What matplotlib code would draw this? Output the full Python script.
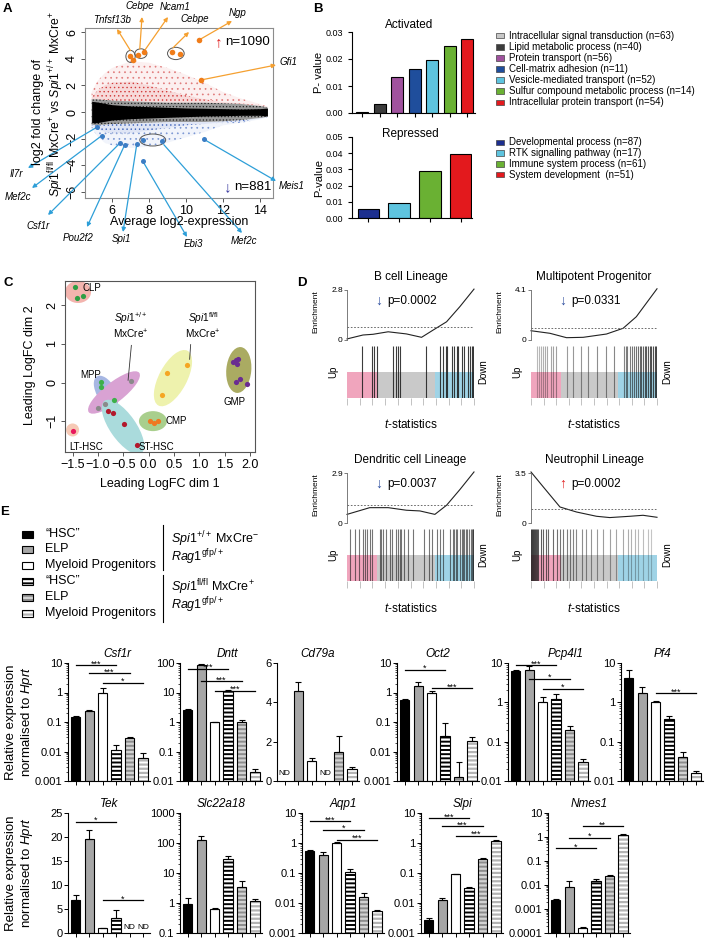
import numpy as np
import matplotlib
matplotlib.use("Agg")
import matplotlib.pyplot as plt
from matplotlib.patches import Ellipse, Rectangle
from matplotlib.transforms import Affine2D
from matplotlib.ticker import LogLocator, NullFormatter, FuncFormatter

plt.rcParams.update({
    'font.family': ['Liberation Sans', 'DejaVu Sans'],
    'mathtext.fontset': 'custom',
    'mathtext.rm': 'Liberation Sans',
    'mathtext.it': 'Liberation Sans:italic',
    'mathtext.bf': 'Liberation Sans:bold',
    'hatch.linewidth': 1.6,
    'axes.linewidth': 0.8,
})

# ======================= DATA =======================
# --- Panel A: MA plot envelopes ---
ma_x       = [4.9, 5.2, 5.6, 6.0, 7.0, 8.0, 9.0, 10.0, 11.0, 12.0, 13.0, 14.0, 14.4]
ma_core_hi = [0.8, 0.75, 0.65, 0.55, 0.45, 0.4, 0.35, 0.3, 0.28, 0.25, 0.22, 0.25, 0.3]
ma_core_lo = [-0.8, -0.8, -0.7, -0.6, -0.5, -0.45, -0.4, -0.35, -0.3, -0.28, -0.25, -0.25, -0.3]
ma_fr_hi   = [0.95, 0.95, 0.9, 0.85, 0.8, 0.75, 0.7, 0.7, 0.7, 0.65, 0.6, 0.45, 0.35]
ma_fr_lo   = [-0.95, -1.0, -0.95, -0.9, -0.85, -0.8, -0.75, -0.75, -0.75, -0.7, -0.6, -0.45, -0.35]
ma_up_mid  = [1.1, 1.6, 2.0, 2.2, 2.3, 2.0, 1.6, 1.25, 0.95, 0.75, 0.65, 0.5, 0.4]
ma_up_hi   = [1.5, 2.3, 2.9, 3.3, 3.8, 3.7, 3.3, 2.8, 2.2, 1.5, 1.0, 0.6, 0.4]
ma_dn_mid  = [-1.0, -1.3, -1.5, -1.6, -1.6, -1.4, -1.2, -1.0, -0.9, -0.8, -0.7, -0.5, -0.4]
ma_dn_lo   = [-1.2, -1.8, -2.3, -2.5, -2.7, -2.6, -2.3, -1.9, -1.5, -1.0, -0.8, -0.55, -0.4]
up_x = [6.97, 7.12, 7.42, 7.73, 9.23, 9.69, 10.7, 10.8]
up_y = [4.22, 3.93, 4.30, 4.48, 4.48, 4.35, 5.4, 2.4]
dn_x = [5.17, 5.44, 6.43, 6.69, 7.34, 7.66, 8.72, 7.66, 10.97]
dn_y = [-1.15, -1.78, -2.33, -2.45, -2.40, -2.08, -2.20, -3.68, -2.05]
up_labels = ['Tnfsf13b', 'Cebpe', 'Ncam1', 'Cebpe', 'Ngp', 'Gfi1']
dn_labels = ['Il7r', 'Mef2c', 'Csf1r', 'Pou2f2', 'Spi1', 'Ebi3', 'Mef2c', 'Meis1']
n_up, n_dn = 1090, 881

# --- Panel B ---
act_labels = ['Intracellular signal transduction (n=63)', 'Lipid metabolic process (n=40)',
              'Protein transport (n=56)', 'Cell-matrix adhesion (n=11)',
              'Vesicle-mediated transport (n=52)', 'Sulfur compound metabolic process (n=14)',
              'Intracellular protein transport (n=54)']
act_vals = [0.0002, 0.0035, 0.0135, 0.0163, 0.0197, 0.0250, 0.0273]
act_colors = ['#c8c8c8', '#3c3c3c', '#a0529e', '#1f4e9c', '#5ec4df', '#6ab133', '#e3191d']
rep_labels = ['Developmental process (n=87)', 'RTK signalling pathway (n=17)',
              'Immune system process (n=61)', 'System development  (n=51)']
rep_vals = [0.0058, 0.0092, 0.0293, 0.0393]
rep_colors = ['#1c2f8f', '#5ec4df', '#6ab133', '#e3191d']

# --- Panel C: MDS ---
clp_x = [-1.455, -1.41, -1.30];         clp_y = [2.47, 2.19, 2.23]
mpp_x = [-0.93, -0.93, -0.685];         mpp_y = [0.02, -0.11, -0.46]
wt_x = [-0.35, -0.86, -1.0];            wt_y = [0.04, -0.56, -0.65]
sthsc_x = [-0.80, -0.70, -0.48, -0.23]; sthsc_y = [-0.72, -0.78, -1.08, -1.62]
lthsc_x = [-1.5];                       lthsc_y = [-1.25]
ko_x = [0.37, 0.75, 0.255];             ko_y = [0.25, 0.45, -0.33]
cmp_x = [0.025, 0.10, 0.19];            cmp_y = [-0.99, -1.05, -0.99]
gmp_x = [1.67, 1.72, 1.77, 1.75, 1.73, 1.80, 1.94]
gmp_y = [0.52, 0.58, 0.60, 0.47, 0.02, 0.08, -0.03]

# --- Panel D: barcode plots ---
bcell_cx = [0.0, 0.126, 0.205, 0.324, 0.468, 0.587, 0.679, 0.784, 0.889, 1.0]
bcell_cy = [0.06, 0.28, 0.32, 0.46, 0.34, 0.15, 0.56, 1.02, 1.87, 2.85]
bcell_bars = [0.118, 0.2, 0.213, 0.239, 0.363, 0.389, 0.405, 0.42, 0.621, 0.732, 0.758, 0.779,
              0.789, 0.824, 0.842, 0.863, 0.871, 0.903, 0.921, 0.955, 0.968, 0.982, 0.989, 0.997]
mpp_cx = [0.0, 0.15, 0.282, 0.414, 0.599, 0.731, 0.836, 1.0]
mpp_cy = [0.76, 0.55, 0.19, 0.22, 0.49, 0.96, 1.91, 4.2]
mpp_bars = [0.05, 0.066, 0.077, 0.098, 0.111, 0.129, 0.156, 0.177, 0.195, 0.288, 0.335, 0.393,
            0.456, 0.52, 0.599, 0.657, 0.739, 0.752, 0.765, 0.784, 0.8, 0.815, 0.831, 0.85,
            0.863, 0.876, 0.889, 0.902, 0.916, 0.929, 0.942, 0.955, 0.968, 0.982, 0.99]
dc_cx = [0.0, 0.179, 0.324, 0.468, 0.574, 0.692, 0.784, 0.889, 1.0]
dc_cy = [0.5, 0.89, 0.89, 0.74, 0.7, 0.5, 1.03, 1.94, 2.96]
dc_bars = [0.026, 0.061, 0.095, 0.126, 0.139, 0.158, 0.179, 0.2, 0.258, 0.271, 0.284, 0.311,
           0.337, 0.358, 0.389, 0.403, 0.416, 0.429, 0.447, 0.482, 0.516, 0.605, 0.647, 0.666,
           0.711, 0.732, 0.758, 0.811, 0.832, 0.842, 0.858, 0.868, 0.889, 0.903, 0.911, 0.921,
           0.937, 0.947, 0.963, 0.974, 0.982, 0.989, 0.995]
neu_cx = [0.0, 0.098, 0.23, 0.361, 0.52, 0.625, 0.784, 0.889, 1.0]
neu_cy = [3.57, 2.52, 1.12, 0.77, 0.47, 0.38, 0.47, 0.54, 0.40]
neu_bars = [0.002, 0.008, 0.016, 0.024, 0.032, 0.04, 0.05, 0.058, 0.077, 0.098, 0.119, 0.137,
            0.172, 0.203, 0.23, 0.256, 0.282, 0.309, 0.335, 0.361, 0.401, 0.44, 0.48, 0.52,
            0.573, 0.625, 0.678, 0.731, 0.77, 0.797, 0.823, 0.85, 0.889, 0.929, 0.955]

# --- Panel E: qPCR bars (6 groups) ---
groups = ['"HSC"', 'ELP', 'Myeloid Progenitors', '"HSC"', 'ELP', 'Myeloid Progenitors']
nan = np.nan
csf1r_v = [0.15, 0.24, 1.0, 0.011, 0.028, 0.0062];  csf1r_e = [0.01, 0.02, 0.4, 0.005, 0.002, 0.003]
dntt_v = [2.5, 85, 1.0, 11, 1.0, 0.02];             dntt_e = [0.2, 10, 0.03, 1.0, 0.15, 0.005]
cd79a_v = [nan, 4.6, 1.0, nan, 1.45, 0.6];          cd79a_e = [0, 0.45, 0.15, 0, 0.85, 0.1]
oct2_v = [0.55, 1.7, 1.0, 0.033, 0.0014, 0.022];    oct2_e = [0.05, 0.6, 0.1, 0.06, 0.003, 0.008]
pcp4l1_v = [6.2, 6.8, 1.0, 1.25, 0.2, 0.03];        pcp4l1_e = [0.6, 1.7, 0.35, 0.35, 0.05, 0.007]
pf4_v = [4.2, 1.7, 1.0, 0.38, 0.04, 0.016];         pf4_e = [2.3, 0.8, 0.08, 0.07, 0.015, 0.002]
tek_v = [6.8, 19.5, 1.0, 3.2, nan, nan];            tek_e = [1.2, 2.0, 0.1, 1.5, 0, 0]
slc_v = [0.9, 130, 0.65, 30, 3.5, 1.15];            slc_e = [0.6, 40, 0.05, 7, 2.0, 0.25]
aqp1_v = [0.55, 0.4, 1.0, 0.11, 0.016, 0.0055];     aqp1_e = [0.05, 0.1, 0.1, 0.03, 0.006, 0.0002]
slpi_v = [0.0027, 0.013, 0.09, 0.032, 0.29, 1.2];   slpi_e = [0.0005, 0.002, 0.005, 0.002, 0.03, 0.05]
nmes1_v = [0.0023, 0.008, 0.00016, 0.014, 0.024, 1.2]; nmes1_e = [0.0003, 0.006, 0.00002, 0.003, 0.002, 0.15]
csf1r_sig = [(0, 3, 8.5, '***'), (1, 4, 4.6, '***'), (2, 5, 2.15, '*')]
dntt_sig = [(0, 3, 64, '***'), (1, 4, 23.7, '***'), (2, 5, 11.5, '***')]
oct2_sig = [(0, 3, 6.0, '*'), (2, 5, 1.44, '***')]
pcp4l1_sig = [(0, 3, 8.76, '***'), (1, 4, 4.0, '*'), (2, 5, 2.24, '*')]
pf4_sig = [(2, 5, 1.68, '***')]
tek_sig = [(0, 3, 23.2, '*'), (2, 5, 6.9, '*')]
aqp1_sig = [(0, 3, 5.5, '***'), (1, 4, 2.8, '*'), (2, 5, 1.29, '***')]
slpi_sig = [(0, 3, 6.8, '***'), (1, 4, 3.6, '***'), (2, 5, 1.76, '***')]
nmes1_sig = [(0, 3, 0.35, '*'), (1, 4, 0.95, '*'), (2, 5, 2.75, '**')]

# ======================= FIGURE =======================
W, H = 708, 939
fig = plt.figure(figsize=(W / 100, H / 100), dpi=100)

def axpx(l, t, r, b, **kw):
    return fig.add_axes([l / W, 1 - b / H, (r - l) / W, (b - t) / H], **kw)

ov = fig.add_axes([0, 0, 1, 1], zorder=10)
ov.set_xlim(0, W); ov.set_ylim(H, 0); ov.axis('off'); ov.patch.set_alpha(0)

for lab, (x, y) in zip('ABCDE', [(7, 9), (318, 9), (8, 283), (302, 283), (5, 512)]):
    ov.text(x, y, lab, fontsize=9.5, fontweight='bold', ha='center', va='center')

# ---------------- Panel A ----------------
axA = axpx(85, 28, 273, 198)
axA.set_xlim(4.54, 14.7); axA.set_ylim(-6.45, 6.3)
with plt.rc_context({'hatch.linewidth': 0.5}):
    axA.fill_between(ma_x, ma_dn_lo, ma_dn_mid, facecolor='#f1f4fb', edgecolor='#7b97d3', hatch='...', lw=0)
    axA.fill_between(ma_x, ma_dn_mid, ma_fr_lo, facecolor='#dfe5f5', edgecolor='#3f63b8', hatch='....', lw=0)
    axA.fill_between(ma_x, ma_up_mid, ma_up_hi, facecolor='#fcf0f0', edgecolor='#e07a7a', hatch='...', lw=0)
    axA.fill_between(ma_x, ma_fr_hi, ma_up_mid, facecolor='#f7dada', edgecolor='#d23a3a', hatch='....', lw=0)
    axA.fill_between(ma_x, ma_fr_lo, ma_fr_hi, facecolor='#9a9a9a', edgecolor='#222222', hatch='.....', lw=0)
axA.fill_between(ma_x, ma_core_lo, ma_core_hi, color='black', lw=0)
for (cx, cy, w, h) in [(7.0, 4.17, 0.5, 0.9), (7.56, 4.38, 0.65, 0.72), (9.45, 4.39, 0.9, 0.92),
                       (8.2, -2.1, 1.4, 0.9)]:
    axA.add_patch(Ellipse((cx, cy), w, h, fill=False, ec='#555555', lw=0.7, zorder=3))
axA.scatter(up_x, up_y, s=16, color='#f07d1a', zorder=4, lw=0)
axA.scatter(dn_x, dn_y, s=13, color='#3c7dc4', zorder=4, lw=0)
for s in axA.spines.values():
    s.set_color('#8c8c8c')
axA.set_xticks([6, 8, 10, 12, 14])
axA.set_yticks([-6, -4, -2, 0, 2, 4, 6])
axA.set_yticklabels(['\u22126', '\u22124', '\u22122', '0', '2', '4', '6'], rotation=90, va='center')
axA.tick_params(labelsize=9, length=3, width=0.7, color='#555555', pad=2)
ov.text(179, 222, 'Average log2-expression', fontsize=9, ha='center', va='center')
ov.text(38, 112, 'log2 fold change of', fontsize=9, rotation=90, ha='center', va='center')
ov.text(56, 104, r'$\it{Spi1}^{\rm fl/fl}$ MxCre$^{+}$ vs $\it{Spi1}^{+/+}$ MxCre$^{+}$',
        fontsize=8.8, rotation=90, ha='center', va='center')

up_from = [(7.0, 4.6), (7.5, 4.72), (7.73, 4.55), (9.3, 4.82), (10.7, 5.4), (10.8, 2.4)]
up_tip = [(117, 29), (142, 17), (168, 17), (189, 32), (232, 21), (276, 65)]
up_txt = [(112, 20), (140, 6), (175, 7), (195, 19), (238, 13), (288, 62)]
dn_from = [(5.17, -1.15), (5.44, -1.78), (6.43, -2.33), (6.69, -2.45), (7.34, -2.4),
           (7.66, -3.68), (8.8, -2.45), (10.97, -2.05)]
dn_tip = [(28, 168), (32, 188), (48, 215), (87, 227), (123, 232), (187, 237), (242, 233), (276, 181)]
dn_txt = [(16, 174), (18, 197), (38, 226), (78, 238), (121, 239), (193, 244), (244, 241), (292, 186)]
for labs, frs, tips, txts, col in [(up_labels, up_from, up_tip, up_txt, '#f5a030'),
                                  (dn_labels, dn_from, dn_tip, dn_txt, '#2e9fd8')]:
    for lab, fr, tip, tx in zip(labs, frs, tips, txts):
        axA.annotate('', xy=tip, xycoords=ov.transData, xytext=fr, textcoords='data',
                     arrowprops=dict(arrowstyle='-|>', color=col, lw=0.9, shrinkA=0, shrinkB=0,
                                     mutation_scale=6), annotation_clip=False)
        ov.text(tx[0], tx[1], lab, fontsize=7, style='italic', ha='center', va='center')
ov.text(219, 42, '\u2191', fontsize=11, color='#e02020', ha='center', va='center')
ov.text(248, 42, 'n=%d' % n_up, fontsize=9.5, ha='center', va='center')
ov.text(228, 187, '\u2193', fontsize=11, color='#3a3aa0', ha='center', va='center')
ov.text(253, 187, 'n=%d' % n_dn, fontsize=9.5, ha='center', va='center')

# ---------------- Panel B ----------------
def bstyle(ax, ticks):
    ax.spines['top'].set_visible(False); ax.spines['right'].set_visible(False)
    ax.set_yticks(ticks)
    ax.set_yticklabels(['%.2f' % t for t in ticks])
    ax.set_xticklabels([])
    ax.tick_params(labelsize=6.5, length=3, width=0.8)

axB1 = axpx(352, 32, 475, 113)
axB1.bar(range(len(act_vals)), act_vals, width=0.69, color=act_colors, edgecolor='black', lw=0.8)
axB1.set_xlim(-0.59, 6.44); axB1.set_ylim(0, 0.03)
axB1.set_xticks(range(len(act_vals)))
bstyle(axB1, [0, 0.01, 0.02, 0.03])
axB2 = axpx(352, 137, 472, 218)
axB2.bar(range(len(rep_vals)), rep_vals, width=0.7, color=rep_colors, edgecolor='black', lw=0.8)
axB2.set_xlim(-0.53, 3.37); axB2.set_ylim(0, 0.05)
axB2.set_xticks(range(len(rep_vals)))
bstyle(axB2, [0, 0.01, 0.02, 0.03, 0.04, 0.05])
ov.text(409, 25, 'Activated', fontsize=8.5, ha='center', va='center')
ov.text(410, 134, 'Repressed', fontsize=8.5, ha='center', va='center')
ov.text(319, 72, 'P- value', fontsize=8, rotation=90, ha='center', va='center')
ov.text(319, 178, 'P-value', fontsize=8, rotation=90, ha='center', va='center')
for i, (lab, c) in enumerate(zip(act_labels, act_colors)):
    y = 35.7 + i * 11.1
    ov.add_patch(Rectangle((495.5, y - 2.8), 8, 5.6, facecolor=c, edgecolor='#444', lw=0.5))
    ov.text(509, y, lab, fontsize=7, ha='left', va='center')
for i, (lab, c) in enumerate(zip(rep_labels, rep_colors)):
    y = 142.3 + i * 10.8
    ov.add_patch(Rectangle((495.5, y - 2.8), 8, 5.6, facecolor=c, edgecolor='#444', lw=0.5))
    ov.text(509, y, lab, fontsize=7, ha='left', va='center')

# ---------------- Panel C ----------------
cx0, cx1, cy0, cy1 = -1.65, 2.1, -1.79, 2.62
axC = axpx(65, 281, 255, 452)
axC.set_xlim(cx0, cx1); axC.set_ylim(cy0, cy1)
sx = 190 / (cx1 - cx0); sy = 171 / (cy1 - cy0)
tr = Affine2D().scale(1 / sx, 1 / sy) + axC.transData
ell = [(-1.393, 2.336, 26, 22, 0, '#f3b4ae'), (-0.841, -0.242, 36, 19, -60, '#a7b7e3'),
       (-0.683, -0.255, 64, 20, 38, '#d9a2d3'), (-0.505, -1.145, 64, 26, -55, '#aadbdc'),
       (0.481, 0.115, 62, 28, 62, '#eef2ad'), (0.086, -0.994, 28, 20, 0, '#a9cf8d'),
       (1.78, 0.325, 25, 46, -5, '#aaab62'), (-1.50, -1.222, 13, 13, 0, '#f6c9b5')]
for (ex, ey, ew, eh, ea, ec) in ell:
    axC.add_patch(Ellipse((ex * sx, ey * sy), ew, eh, angle=ea, transform=tr, color=ec, lw=0))
for xs, ys, c in [(clp_x, clp_y, '#2e9e44'), (mpp_x, mpp_y, '#3db04a'), (wt_x, wt_y, '#8a8a8a'),
                  (sthsc_x, sthsc_y, '#b2182b'), (lthsc_x, lthsc_y, '#e8175d'),
                  (ko_x, ko_y, '#f5a623'), (cmp_x, cmp_y, '#f07820'), (gmp_x, gmp_y, '#6a2c91')]:
    axC.scatter(xs, ys, s=14, color=c, lw=0, zorder=3)
for s in axC.spines.values():
    s.set_color('#555555')
axC.set_xticks([-1.5, -1.0, -0.5, 0.0, 0.5, 1.0, 1.5, 2.0])
axC.set_xticklabels(['\u22121.5', '\u22121.0', '\u22120.5', '0.0', '0.5', '1.0', '1.5', '2.0'])
axC.set_yticks([-1, 0, 1, 2])
axC.set_yticklabels(['\u22121', '0', '1', '2'], rotation=90, va='center')
axC.tick_params(labelsize=9, length=3, width=0.7, color='#555555', pad=2)
ov.text(160, 484, 'Leading LogFC dim 1', fontsize=9, ha='center', va='center')
ov.text(30, 365, 'Leading LogFC dim 2', fontsize=9, rotation=90, ha='center', va='center')
for (tx, ty, t, ha) in [(-1.31, 2.43, 'CLP', 'left'), (-1.14, 0.2, 'MPP', 'center'),
                        (-1.23, -1.65, 'LT-HSC', 'center'), (-0.2, -1.65, 'ST-HSC', 'left'),
                        (0.33, -1.0, 'CMP', 'left'), (1.69, -0.49, 'GMP', 'center')]:
    axC.text(tx, ty, t, fontsize=7, ha=ha, va='center')
axC.text(-0.35, 1.47, r'$\it{Spi1}^{+/+}$' + '\nMxCre$^{+}$', fontsize=7.3, ha='center', va='center',
         linespacing=1.1)
axC.text(1.08, 1.47, r'$\it{Spi1}^{\rm fl/fl}$' + '\nMxCre$^{+}$', fontsize=7.3, ha='center', va='center',
         linespacing=1.1)
axC.plot([-0.405, -0.34], [0.06, 0.96], color='#333', lw=0.6)
axC.plot([0.81, 0.83], [0.6, 0.98], color='#333', lw=0.6)

# ---------------- Panel D ----------------
def gsea(l, r, t, title, arrow, acol, ptxt, ymax, cxs, cys, dash, bars, alphas, enr_x, up_x, down_x):
    axc = axpx(l, t, r, t + 50)
    axc.plot(cxs, cys, color='#222222', lw=0.8, clip_on=False)
    axc.axhline(dash, ls=(0, (2, 2)), color='#555555', lw=0.6)
    axc.set_xlim(0, 1); axc.set_ylim(0, ymax)
    for k in ['top', 'right', 'bottom']:
        axc.spines[k].set_visible(False)
    axc.spines['left'].set_color('#666666'); axc.spines['left'].set_linewidth(0.6)
    axc.set_xticks([])
    axc.set_yticks([0, ymax]); axc.set_yticklabels(['0', '%g' % ymax])
    axc.tick_params(labelsize=6, length=2, width=0.6, pad=1, color='#666666')
    axb = axpx(l, t + 56, r, t + 108)
    axb.set_xlim(0, 1); axb.set_ylim(0, 1)
    axb.axvspan(0, 0.24, 0, 0.5, color='#f0a5bd', lw=0)
    axb.axvspan(0.24, 0.69, 0, 0.5, color='#c9c9c9', lw=0)
    axb.axvspan(0.69, 1.0, 0, 0.5, color='#9fd3e6', lw=0)
    axb.vlines(bars, 0, 1, colors=[(0.1, 0.1, 0.1, a) for a in alphas], lw=0.8)
    for k in ['top', 'right', 'left', 'bottom']:
        axb.spines[k].set_visible(False)
    axb.set_yticks([])
    axb.set_xticks(np.linspace(0, 1, 11)); axb.set_xticklabels([])
    axb.tick_params(axis='x', length=5, width=0.5, color='#aaaaaa', pad=1)
    xm = (l + r) / 2
    ov.text(xm, t - 13, title, fontsize=8.5, ha='center', va='center')
    ov.text(l + 32, t + 11, arrow, fontsize=10, color=acol, ha='center', va='center')
    ov.text(l + 40, t + 11, ptxt, fontsize=8.5, ha='left', va='center')
    ov.text(enr_x, t + 22, 'Enrichment', fontsize=6, rotation=90, ha='center', va='center')
    ov.text(up_x, t + 82, 'Up', fontsize=7, rotation=90, ha='center', va='center')
    ov.text(down_x, t + 82, 'Down', fontsize=7, rotation=90, ha='center', va='center')
    ov.text(xm, t + 135, r'$\it{t}$-statistics', fontsize=8.5, ha='center', va='center')

gsea(347, 474, 290, 'B cell Lineage', '\u2193', '#3050a0', 'p=0.0002', 2.8, bcell_cx, bcell_cy, 0.75,
     bcell_bars, [0.85] * len(bcell_bars), 316, 333, 483)
gsea(531, 657, 290, 'Multipotent Progenitor', '\u2193', '#3050a0', 'p=0.0331', 4.1, mpp_cx, mpp_cy, 0.96,
     mpp_bars, list(np.linspace(0.3, 0.8, len(mpp_bars))), 500, 517, 667)
gsea(347, 474, 473, 'Dendritic cell Lineage', '\u2193', '#3050a0', 'p=0.0037', 2.9, dc_cx, dc_cy, 1.03,
     dc_bars, [0.6] * len(dc_bars), 316, 333, 483)
gsea(531, 657, 473, 'Neutrophil Lineage', '\u2191', '#e02020', 'p=0.0002', 3.5, neu_cx, neu_cy, 1.0,
     neu_bars, list(np.linspace(0.85, 0.25, len(neu_bars))), 500, 517, 667)

# ---------------- Panel E ----------------
e_face = ['black', '#a6a6a6', 'white', 'black', '#8c8c8c', 'white']
e_hatch = [None, None, None, 'white', '#d2d2d2', '#b4b4b4']

def draw_group_patch(target, x, y, w, h, i, **kw):
    if e_hatch[i] is None:
        target.add_patch(Rectangle((x, y), w, h, facecolor=e_face[i], edgecolor='black', lw=0.8, **kw))
    else:
        target.add_patch(Rectangle((x, y), w, h, facecolor=e_face[i], edgecolor=e_hatch[i],
                                   hatch='----', lw=0, **kw))
        target.add_patch(Rectangle((x, y), w, h, fill=False, edgecolor='black', lw=0.8, **kw))

leg_y = [534, 549, 565, 581, 597, 613]
for i, (g, y) in enumerate(zip(groups, leg_y)):
    draw_group_patch(ov, 22, y - 3.5, 11, 7, i)
    ov.text(45, y, g.replace('"HSC"', '\u201cHSC\u201d'), fontsize=9, ha='left', va='center')
ov.plot([163, 163], [525, 570], color='black', lw=0.8)
ov.plot([163, 163], [575, 622], color='black', lw=0.8)
ov.text(171, 539, r'$\it{Spi1}^{+/+}$ MxCre$^{-}$', fontsize=9, ha='left', va='center')
ov.text(171, 557, r'$\it{Rag1}^{\rm gfp/+}$', fontsize=9, ha='left', va='center')
ov.text(171, 587, r'$\it{Spi1}^{\rm fl/fl}$ MxCre$^{+}$', fontsize=9, ha='left', va='center')
ov.text(171, 605, r'$\it{Rag1}^{\rm gfp/+}$', fontsize=9, ha='left', va='center')

def qpcr(l, t, b, gene, vals, errs, ylim, log=True, sig=(), nd_y=None, yticks=None, title_dx=0.0):
    ax = axpx(l, t, l + 82, b)
    if log:
        ax.set_yscale('log')
    ax.set_ylim(ylim); ax.set_xlim(-0.56, 5.52)
    base = ylim[0]
    for i, v in enumerate(vals):
        if np.isnan(v):
            ax.text(i, nd_y, 'ND', fontsize=6, ha='center', va='center')
            continue
        if e_hatch[i] is None:
            ax.bar(i, v - base, bottom=base, width=0.67, color=e_face[i], edgecolor='black', lw=0.8)
        else:
            ax.bar(i, v - base, bottom=base, width=0.67, color=e_face[i], edgecolor=e_hatch[i],
                   hatch='----', lw=0)
            ax.bar(i, v - base, bottom=base, width=0.67, fill=False, edgecolor='black', lw=0.8)
        ax.errorbar([i], [v], yerr=[[0], [errs[i]]], fmt='none', ecolor='black', elinewidth=0.8,
                    capsize=2.2, capthick=0.8)
    for (i, j, y, s) in sig:
        ax.plot([i, j], [y, y], color='black', lw=0.9, clip_on=False)
        ax.annotate(s, ((i + j) / 2, y), xytext=(0, -2.5), textcoords='offset points',
                    ha='center', va='bottom', fontsize=6.5, annotation_clip=False)
    ax.spines['top'].set_visible(False); ax.spines['right'].set_visible(False)
    if log:
        ax.yaxis.set_major_locator(LogLocator(base=10, numticks=12))
        ax.yaxis.set_minor_locator(LogLocator(base=10, subs=np.arange(2, 10), numticks=12))
        ax.yaxis.set_major_formatter(FuncFormatter(lambda v, p: '%g' % v))
        ax.yaxis.set_minor_formatter(NullFormatter())
    else:
        ax.set_yticks(yticks)
    ax.set_xticks(range(6)); ax.set_xticklabels([])
    ax.tick_params(axis='both', labelsize=8, length=3, width=0.7, pad=1)
    ax.tick_params(axis='y', which='minor', length=1.8, width=0.5)
    ax.set_title(gene, fontsize=8.5, style='italic', pad=4, x=0.5 + title_dx)
    return ax

r1t, r1b = 663, 781
qpcr(68, r1t, r1b, 'Csf1r', csf1r_v, csf1r_e, (0.001, 10), sig=csf1r_sig, title_dx=0.1)
qpcr(180, r1t, r1b, 'Dntt', dntt_v, dntt_e, (0.01, 100), sig=dntt_sig, title_dx=0.08)
qpcr(277, r1t, r1b, 'Cd79a', cd79a_v, cd79a_e, (0, 6), log=False, nd_y=0.4, yticks=[0, 2, 4, 6])
qpcr(397, r1t, r1b, 'Oct2', oct2_v, oct2_e, (0.001, 10), sig=oct2_sig)
qpcr(508, r1t, r1b, 'Pcp4l1', pcp4l1_v, pcp4l1_e, (0.01, 10), sig=pcp4l1_sig, title_dx=0.2)
qpcr(621, r1t, r1b, 'Pf4', pf4_v, pf4_e, (0.01, 10), sig=pf4_sig)
r2t, r2b = 813, 933
qpcr(68, r2t, r2b, 'Tek', tek_v, tek_e, (0, 25), log=False, sig=tek_sig, nd_y=1.2,
     yticks=[0, 5, 10, 15, 20, 25])
qpcr(180, r2t, r2b, 'Slc22a18', slc_v, slc_e, (0.1, 1000))
qpcr(302, r2t, r2b, 'Aqp1', aqp1_v, aqp1_e, (0.001, 10), sig=aqp1_sig)
qpcr(421, r2t, r2b, 'Slpi', slpi_v, slpi_e, (0.001, 10), sig=slpi_sig)
qpcr(548, r2t, r2b, 'Nmes1', nmes1_v, nmes1_e, (0.0001, 10), sig=nmes1_sig)
for yc in [722, 873]:
    ov.text(11, yc, 'Relative expression', fontsize=9.5, rotation=90, ha='center', va='center')
    ov.text(27, yc, r'normalised to $\it{Hprt}$', fontsize=9.5, rotation=90, ha='center', va='center')

fig.savefig('out.png', dpi=100)
